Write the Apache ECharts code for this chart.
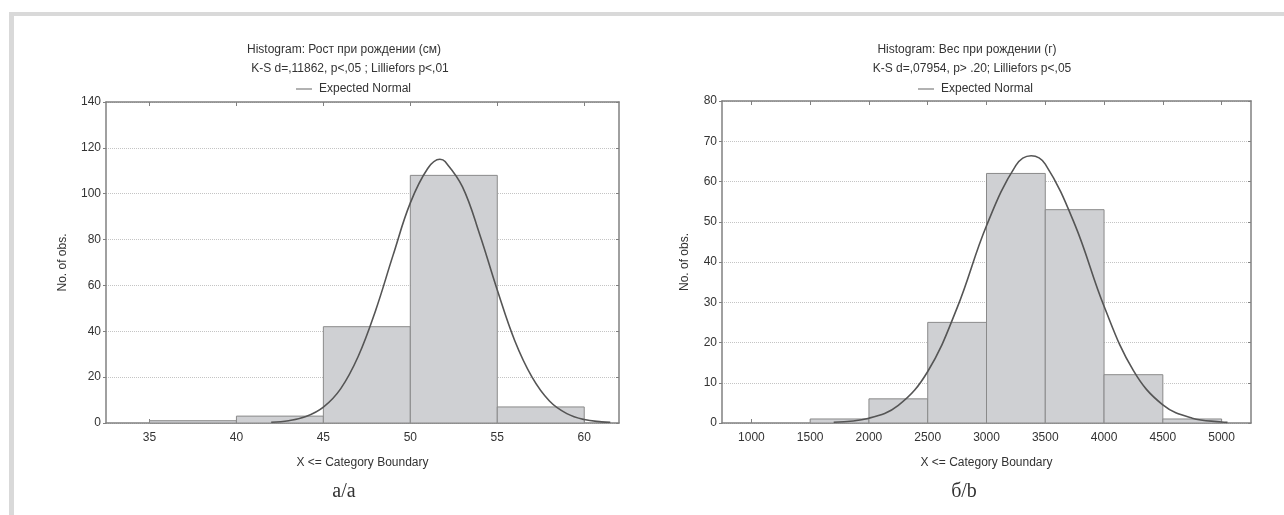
<!DOCTYPE html>
<html>
<head>
<meta charset="utf-8">
<script src="https://cdn.jsdelivr.net/npm/echarts@6/dist/echarts.min.js"></script>
<style>
html,body{margin:0;padding:0;background:#fff;}
#main{width:1284px;height:515px;}
</style>
</head>
<body>
<div id="main"></div>
<script>
// а: рост при рождении (см)
var heightEdges=[35,40,45,50,55,60];
var heightCounts=[1,3,42,108,7];
var heightTicks=[35,40,45,50,55,60];
var heightCurveX=[42,43,44,45,46,47,48,49,50,51,51.7,52,53,54,55,56,57,58,59,60,61,61.5];
var heightCurveY=[0.3,1,2.8,6.9,15,29,49,73,96,111,115,114,103,82,58,36,20,9.6,4.1,1.5,0.5,0.3];

// б: вес при рождении (г)
var weightEdges=[1500,2000,2500,3000,3500,4000,4500,5000];
var weightCounts=[1,6,25,62,53,12,1];
var weightTicks=[1000,1500,2000,2500,3000,3500,4000,4500,5000];
var weightCurveX=[1700,2000,2250,2500,2750,3000,3250,3380,3500,3750,4000,4250,4500,4750,5000,5050];
var weightCurveY=[0.2,1.2,4.4,12.8,28.6,49,64,66.4,64.3,49.4,29,13,4.5,1.2,0.25,0.15];

var txt='#333';
var frame='#808080';
var font='Liberation Sans';

function bins(edges,counts){
  var out=[];
  for(var i=0;i<counts.length;i++) out.push([edges[i],edges[i+1],counts[i]]);
  return out;
}
function pairs(xs,ys){
  var out=[];
  for(var i=0;i<xs.length;i++) out.push([xs[i],ys[i]]);
  return out;
}
function histItem(params,api){
  var p0=api.coord([api.value(0),api.value(2)]);
  var p1=api.coord([api.value(1),0]);
  return {
    type:'rect',
    shape:{x:p0[0],y:p0[1],width:p1[0]-p0[0],height:p1[1]-p0[1]},
    style:{fill:'#cfd0d3',stroke:'#8a8a8a',lineWidth:1}
  };
}

function xAxes(grid,min,max,ticks){
  return [
    {gridIndex:grid,type:'value',min:min,max:max,position:'bottom',
     name:'X <= Category Boundary',nameLocation:'middle',nameGap:34,
     nameTextStyle:{color:txt,fontSize:12,fontFamily:font},
     axisLine:{show:true,onZero:false,lineStyle:{color:frame,width:1.5}},
     axisTick:{show:true,inside:true,length:4,customValues:ticks,lineStyle:{color:frame}},
     axisLabel:{customValues:ticks,color:txt,fontSize:12,margin:9,fontFamily:font,
       formatter:function(v){return String(v);}},
     splitLine:{show:false}},
    {gridIndex:grid,type:'value',min:min,max:max,position:'top',
     axisLine:{show:true,onZero:false,lineStyle:{color:frame,width:1.5}},
     axisTick:{show:true,inside:true,length:4,customValues:ticks,lineStyle:{color:frame}},
     axisLabel:{show:false},splitLine:{show:false}}
  ];
}
function yAxes(grid,max,interval,gap){
  return [
    {gridIndex:grid,type:'value',min:0,max:max,interval:interval,position:'left',
     name:'No. of obs.',nameLocation:'middle',nameGap:gap,
     nameTextStyle:{color:txt,fontSize:12,fontFamily:font},
     axisLine:{show:true,onZero:false,lineStyle:{color:frame,width:1.5}},
     axisTick:{show:true,inside:false,length:3,lineStyle:{color:frame}},
     axisLabel:{color:txt,fontSize:12,margin:5,fontFamily:font},
     splitLine:{show:true,lineStyle:{color:'#c4c4c4',type:'dotted',width:1}}},
    {gridIndex:grid,type:'value',min:0,max:max,interval:interval,position:'right',
     axisLine:{show:true,onZero:false,lineStyle:{color:frame,width:1.5}},
     axisTick:{show:true,inside:true,length:3,lineStyle:{color:frame}},
     axisLabel:{show:false},splitLine:{show:false}}
  ];
}

function label(x,y,text,f){
  return {type:'text',x:x,y:y,style:{text:text,font:f,fill:txt,textAlign:'center',textVerticalAlign:'middle',align:'center',verticalAlign:'middle'}};
}
function legendAt(left){
  return {data:['Expected Normal'],left:left,top:78,icon:'rect',itemWidth:16,itemHeight:1.5,itemGap:6,
    itemStyle:{color:'#999'},textStyle:{color:txt,fontSize:12,fontFamily:font,padding:[0,0,0,2]}};
}

var chart=echarts.init(document.getElementById('main'));

var option={
  animation:false,
  backgroundColor:'#fff',
  grid:[
    {left:106,top:102,width:513,height:321},
    {left:722,top:101,width:529,height:322}
  ],
  xAxis:xAxes(0,32.5,62,heightTicks).concat(xAxes(1,750,5250,weightTicks)),
  yAxis:yAxes(0,140,20,37).concat(yAxes(1,80,10,31)),
  legend:[legendAt(291),legendAt(913)],
  graphic:[
    {type:'rect',shape:{x:9,y:12,width:1275,height:4},style:{fill:'#d9d9d9'}},
    {type:'rect',shape:{x:9,y:12,width:5,height:503},style:{fill:'#d9d9d9'}},
    label(344,50,'Histogram: Рост при рождении (см)','12px "Liberation Sans"'),
    label(350,69,'K-S d=,11862, p<,05 ; Lilliefors p<,01','12px "Liberation Sans"'),
    label(967,50,'Histogram: Вес при рождении (г)','12px "Liberation Sans"'),
    label(972,69,'K-S d=,07954, p> .20; Lilliefors p<,05','12px "Liberation Sans"'),
    label(344,492,'а/a','20px "Liberation Serif"'),
    label(964,492,'б/b','20px "Liberation Serif"')
  ],
  series:[
    {type:'custom',xAxisIndex:0,yAxisIndex:0,renderItem:histItem,
     encode:{x:[0,1],y:2},data:bins(heightEdges,heightCounts),z:2},
    {name:'Expected Normal',type:'line',xAxisIndex:0,yAxisIndex:0,smooth:0.4,symbol:'none',
     lineStyle:{color:'#555',width:1.6},itemStyle:{color:'#999'},
     data:pairs(heightCurveX,heightCurveY),z:3},
    {type:'custom',xAxisIndex:2,yAxisIndex:2,renderItem:histItem,
     encode:{x:[0,1],y:2},data:bins(weightEdges,weightCounts),z:2},
    {name:'Expected Normal',type:'line',xAxisIndex:2,yAxisIndex:2,smooth:0.4,symbol:'none',
     lineStyle:{color:'#555',width:1.6},itemStyle:{color:'#999'},
     data:pairs(weightCurveX,weightCurveY),z:3}
  ]
};

chart.setOption(option);
</script>
</body>
</html>
